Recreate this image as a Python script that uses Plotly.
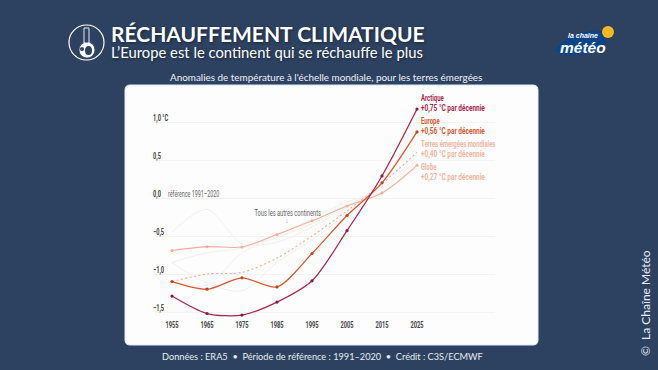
import plotly.graph_objects as go

W, H = 658, 370
years = [1955, 1965, 1975, 1985, 1995, 2005, 2015, 2025]
arctique = [-1.29, -1.52, -1.54, -1.37, -1.09, -0.43, 0.29, 1.17]
europe = [-1.10, -1.20, -1.05, -1.17, -0.73, -0.23, 0.20, 0.87]
terres = [-1.10, -1.00, -0.98, -0.79, -0.50, -0.17, 0.19, 0.60]
globe = [-0.69, -0.64, -0.645, -0.48, -0.30, -0.105, 0.065, 0.43]
continent_a = [-0.45, -0.15, -0.60, -0.58, -0.38, -0.12, 0.15, 0.55]
continent_b = [-0.85, -1.12, -1.22, -0.85, -0.55, -0.20, 0.20, 0.58]
continent_c = [-1.10, -1.15, -0.72, -0.52, -0.34, -0.10, 0.12, 0.50]
continent_d = [-0.85, -0.72, -0.66, -0.50, -0.27, -0.05, 0.08, 0.40]
y_ticks = [1.0, 0.5, 0.0, -0.5, -1.0, -1.5]
y_labels = ["1,0 °C", "0,5", "0,0", "−0,5", "−1,0", "−1,5"]

NAVY = "#2d4261"
ARC, EUR, SOFT, GLO = "#a8294f", "#d85a33", "#f3b59f", "#f3ae97"
NARROW = "Roboto, sans-serif"
LATO = "Lato, sans-serif"
SHADOW = "1px 1px 3px rgba(0,0,0,0.45)"


def px(x):
    return x / W


def py(y):
    return 1 - y / H


def rounded(x0, y0, x1, y1, r):
    a, b, c, d = px(x0), px(x1), py(y0), py(y1)
    rx, ry = r / W, r / H
    return (f"M{a+rx},{c} L{b-rx},{c} Q{b},{c} {b},{c-ry} L{b},{d+ry} Q{b},{d} {b-rx},{d} "
            f"L{a+rx},{d} Q{a},{d} {a},{d+ry} L{a},{c-ry} Q{a},{c} {a+rx},{c} Z")


def swoosh():
    return (f"M{px(555)},{py(50)} Q{px(572)},{py(29)} {px(604)},{py(31)} "
            f"Q{px(614)},{py(44)} {px(590)},{py(52)} Q{px(562)},{py(60)} {px(555)},{py(50)} Z")


fig = go.Figure()
for vals in (continent_a, continent_b, continent_c, continent_d):
    fig.add_trace(go.Scatter(x=years, y=vals, mode="lines", hoverinfo="skip",
                             line=dict(color="#f0eeec", width=0.9, shape="spline", smoothing=0.9)))
fig.add_trace(go.Scatter(x=years, y=globe, mode="lines+markers", name="Globe",
                         line=dict(color=GLO, width=1.1, shape="spline", smoothing=0.8),
                         marker=dict(size=3, color=GLO)))
fig.add_trace(go.Scatter(x=years, y=terres, mode="lines", name="Terres émergées mondiales",
                         line=dict(color="#f2ad93", width=1.1, dash="2px,2.5px", shape="spline", smoothing=0.8)))
fig.add_trace(go.Scatter(x=years, y=europe, mode="lines+markers", name="Europe",
                         line=dict(color=EUR, width=1.3, shape="spline", smoothing=0.8),
                         marker=dict(size=3.2, color="#c4421e")))
fig.add_trace(go.Scatter(x=years, y=arctique, mode="lines+markers", name="Arctique",
                         line=dict(color=ARC, width=1.3, shape="spline", smoothing=0.8),
                         marker=dict(size=3.2, color="#8c1a40")))

shapes = [
    dict(type="path", xref="paper", yref="paper", path=rounded(125, 85, 538, 345, 5),
         fillcolor="#fdfdfd", line=dict(color="#dfe8f4", width=1), layer="below"),
    # round icon: ring, globe with dark land patches, thermometer
    dict(type="circle", xref="paper", yref="paper", x0=px(69), x1=px(104), y0=py(60), y1=py(25),
         line=dict(color="white", width=1.2)),
    dict(type="circle", xref="paper", yref="paper", x0=px(79), x1=px(95), y0=py(58), y1=py(42),
         fillcolor="white", line=dict(color=NAVY, width=0.8)),
    dict(type="circle", xref="paper", yref="paper", x0=px(85), x1=px(92), y0=py(55), y1=py(46),
         fillcolor=NAVY, line=dict(width=0)),
    dict(type="circle", xref="paper", yref="paper", x0=px(80), x1=px(84), y0=py(51), y1=py(47),
         fillcolor=NAVY, line=dict(width=0)),
    dict(type="rect", xref="paper", yref="paper", x0=px(84), x1=px(89), y0=py(43), y1=py(28),
         fillcolor=NAVY, line=dict(color="white", width=0.9)),
    # logo
    dict(type="path", xref="paper", yref="paper", path=swoosh(), fillcolor="#0d4488", line=dict(width=0)),
    dict(type="circle", xref="paper", yref="paper", x0=px(602), x1=px(614), y0=py(38), y1=py(26),
         fillcolor="#f6b81c", line=dict(width=0)),
]


def label(x, y, text, size, color, family=NARROW, anchor="left", bold=False, shadow=None, **kw):
    t = f"<b>{text}</b>" if bold else text
    font = dict(size=size, color=color, family=family)
    if shadow:
        font["shadow"] = shadow
    fig.add_annotation(xref="paper", yref="paper", x=px(x - 2 if anchor == "left" else x), y=py(y), text=t,
                       showarrow=False, xanchor=anchor, yanchor="middle", borderpad=0, font=font, **kw)


label(112, 34, "RÉCHAUFFEMENT CLIMATIQUE", 21, "white", LATO, bold=True, shadow=SHADOW)
label(112, 52, "L’Europe est le continent qui se réchauffe le plus", 14.8, "white", LATO, shadow=SHADOW)
label(326, 77, "Anomalies de température à l'échelle mondiale, pour les terres émergées", 9.9, "#eef1f5", LATO, anchor="center")
label(322, 356, "Données : ERA5  •  Période de référence : 1991–2020  •  Crédit : C3S/ECMWF", 9.2, "#e8ecf1", LATO, anchor="center")
label(645, 303, "©  La Chaîne Météo", 12, "#e8ecf1", LATO, anchor="center", textangle=-90)
label(583, 35, "<i>la chaîne</i>", 7, "white", "Liberation Sans, sans-serif", anchor="center", bold=True)
label(583, 47, "<i>météo</i>", 15.5, "white", "Liberation Sans, sans-serif", anchor="center", bold=True)

label(422, 98, "Arctique", 9, ARC, bold=True)
label(422, 108, "+0,75 °C par décennie", 9, ARC, bold=True)
label(422, 121, "Europe", 9, EUR, bold=True)
label(422, 131, "+0,56 °C par décennie", 9, EUR, bold=True)
label(422, 144, "Terres émergées mondiales", 9, SOFT, bold=True)
label(422, 154, "+0,40 °C par décennie", 9, SOFT, bold=True)
label(422, 167, "Globe", 9, SOFT, bold=True)
label(422, 177, "+0,27 °C par décennie", 9, SOFT, bold=True)
label(169, 194, "référence 1991–2020", 8.5, "#666666")
label(288, 213, "Tous les autres continents", 9, "#666666", anchor="center")
label(287, 221, "↓", 7, "#777777", anchor="center")

for val, txt in zip(y_ticks, y_labels):
    fig.add_annotation(xref="paper", yref="y", x=px(151.5), y=val, yshift=4, text=f"<b>{txt}</b>",
                       showarrow=False, xanchor="left", yanchor="middle", borderpad=0,
                       font=dict(size=9, color="#444444", family=NARROW))

fig.update_layout(
    width=W, height=H, autosize=False, margin=dict(l=0, r=0, t=0, b=0),
    paper_bgcolor=NAVY, plot_bgcolor="rgba(0,0,0,0)", showlegend=False, shapes=shapes,
    xaxis=dict(domain=[px(155), px(495)], range=[1955 - 17 / 3.5, 1955 + 323 / 3.5],
               tickmode="array", tickvals=years, ticktext=[f"<b>{v}</b>" for v in years],
               showgrid=False, zeroline=False, showline=False, ticks="",
               tickfont=dict(size=9, color="#444444", family=NARROW)),
    yaxis=dict(domain=[py(318), py(100)], range=[(198 - 318) / 76, (198 - 100) / 76],
               tickmode="array", tickvals=y_ticks, showticklabels=False,
               showgrid=True, gridcolor="#f5f3f1", gridwidth=1, zeroline=False, showline=False, ticks=""),
)

CONDENSE = """
document.body.style.margin='0';document.body.style.overflow='hidden';
document.querySelectorAll('.xtick text, .annotation-text').forEach(function(t){
  if(!t.style.fontFamily.includes('Roboto')) return;
  var s=t.textContent;
  var k=0.63;
  if(s.indexOf('+')===0) k=0.72;
  else if(s==='Arctique'||s==='Europe'||s==='Globe'||s.indexOf('Terres')===0) k=0.66;
  var b0=t.getBBox(), L=t.getComputedTextLength();
  t.setAttribute('lengthAdjust','spacingAndGlyphs');
  t.setAttribute('textLength', L*k);
  if(t.closest('.xtick')||s.indexOf('Tous')===0||s==='↓') return;
  var b1=t.getBBox();
  t.setAttribute('x', parseFloat(t.getAttribute('x'))-(b1.x-b0.x));
});
"""
fig.write_html("out.html", config={"displayModeBar": False}, post_script=CONDENSE)
